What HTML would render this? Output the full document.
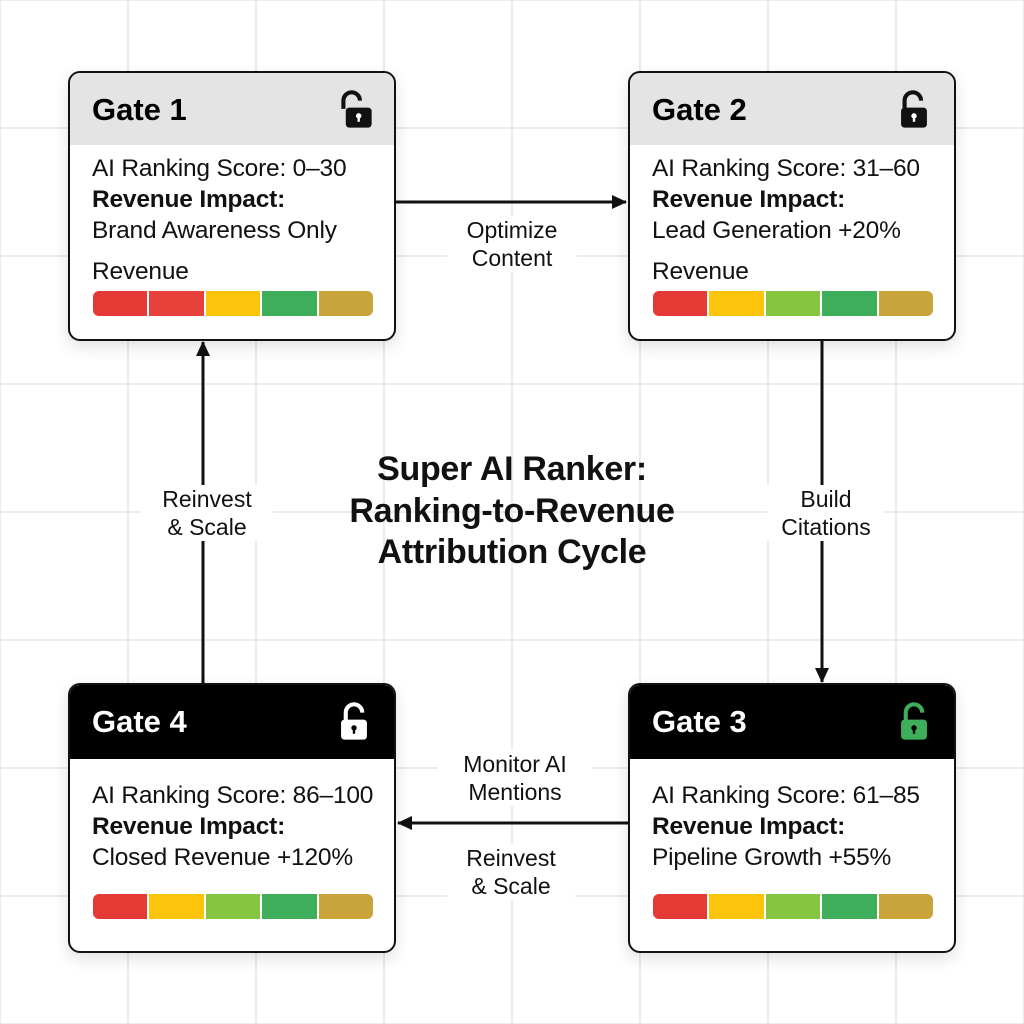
<!DOCTYPE html>
<html><head><meta charset="utf-8"><style>
html,body{margin:0;padding:0;}
body{width:1024px;height:1024px;position:relative;overflow:hidden;font-family:"Liberation Sans",sans-serif;
background-color:#fff;
background-image:linear-gradient(#ebebeb 2px,transparent 2px),linear-gradient(90deg,#ebebeb 2px,transparent 2px);
background-size:128px 128px;background-position:-1px -1px;}
.card{position:absolute;width:324px;height:266px;border:2px solid #111;border-radius:12px;background:#fff;overflow:hidden;box-shadow:0 6px 16px rgba(0,0,0,0.12);}
.hd{height:72px;background:#e4e4e4;position:relative;}
.dark .hd{background:#000;color:#fff;height:74px;}
.hd .t{position:absolute;left:22px;top:19px;font-size:31px;font-weight:bold;}
.lk{position:absolute;right:20px;top:17px;}
.bd{position:absolute;left:22px;font-size:24.5px;line-height:31px;color:#111;white-space:nowrap;letter-spacing:-0.2px;}
.bar{position:absolute;left:23px;width:280px;height:25px;display:flex;gap:2px;border-radius:6px;overflow:hidden;}
.bar div{flex:1;}
.lbl{position:absolute;background:#fff;font-size:23px;line-height:28px;text-align:center;color:#111;padding:0 4px;}
.title{position:absolute;left:262px;width:500px;top:449px;text-align:center;font-size:34px;font-weight:bold;line-height:41.5px;color:#111;letter-spacing:-0.3px;}
</style></head><body>
<svg width="1024" height="1024" style="position:absolute;left:0;top:0">
<defs>
<marker id="b" markerWidth="16" markerHeight="16" refX="14" refY="8" orient="auto" markerUnits="userSpaceOnUse"><path d="M0,1 L15,8 L0,15 z" fill="#111"/></marker></defs>
<line x1="396" y1="202" x2="626" y2="202" stroke="#111" stroke-width="3" marker-end="url(#b)"/>
<line x1="822" y1="341" x2="822" y2="682" stroke="#111" stroke-width="3" marker-end="url(#b)"/>
<line x1="628" y1="823" x2="398" y2="823" stroke="#111" stroke-width="3" marker-end="url(#b)"/>
<line x1="203" y1="683" x2="203" y2="342" stroke="#111" stroke-width="3" marker-end="url(#b)"/>
</svg>

<div class="card" style="left:68px;top:71px">
 <div class="hd"><div class="t">Gate 1</div>
 <svg class="lk" width="40" height="40" viewBox="0 0 34 34"><path d="M8 16 V9 a7 7 0 0 1 14 0" fill="none" stroke="#111" stroke-width="3.5"/><rect x="10" y="15" width="22" height="17" rx="3" fill="#111"/><circle cx="21" cy="22" r="2.3" fill="#fff"/><rect x="20" y="22" width="2" height="5" fill="#fff"/></svg></div>
 <div class="bd" style="top:80px">AI Ranking Score: 0–30<br><b>Revenue Impact:</b><br>Brand Awareness Only</div>
 <div class="bd" style="top:183px">Revenue</div>
 <div class="bar" style="top:218px"><div style="background:#e53935"></div><div style="background:#e8403a"></div><div style="background:#fcc40a"></div><div style="background:#3fae5a"></div><div style="background:#c9a43a"></div></div>
</div>

<div class="card" style="left:628px;top:71px">
 <div class="hd"><div class="t">Gate 2</div>
 <svg class="lk" width="40" height="40" viewBox="0 0 34 34"><path d="M9 16 V9 a7 7 0 0 1 14 0" fill="none" stroke="#111" stroke-width="3.5"/><rect x="6" y="15" width="22" height="17" rx="3" fill="#111"/><circle cx="17" cy="22" r="2.3" fill="#fff"/><rect x="16" y="22" width="2" height="5" fill="#fff"/></svg></div>
 <div class="bd" style="top:80px">AI Ranking Score: 31–60<br><b>Revenue Impact:</b><br>Lead Generation +20%</div>
 <div class="bd" style="top:183px">Revenue</div>
 <div class="bar" style="top:218px"><div style="background:#e53935"></div><div style="background:#fcc40a"></div><div style="background:#86c540"></div><div style="background:#3fae5a"></div><div style="background:#c9a43a"></div></div>
</div>

<div class="card dark" style="left:68px;top:683px">
 <div class="hd"><div class="t">Gate 4</div>
 <svg class="lk" width="40" height="40" viewBox="0 0 34 34"><path d="M10 16 V9 a7 7 0 0 1 14 0" fill="none" stroke="#fff" stroke-width="3.5"/><rect x="6" y="15" width="22" height="17" rx="3" fill="#fff"/><circle cx="17" cy="22" r="2.3" fill="#000"/><rect x="16" y="22" width="2" height="5" fill="#000"/></svg></div>
 <div class="bd" style="top:95px">AI Ranking Score: 86–100<br><b>Revenue Impact:</b><br>Closed Revenue +120%</div>
 <div class="bar" style="top:209px"><div style="background:#e53935"></div><div style="background:#fcc40a"></div><div style="background:#86c540"></div><div style="background:#3fae5a"></div><div style="background:#c9a43a"></div></div>
</div>

<div class="card dark" style="left:628px;top:683px">
 <div class="hd"><div class="t">Gate 3</div>
 <svg class="lk" width="40" height="40" viewBox="0 0 34 34"><path d="M10 16 V9 a7 7 0 0 1 14 0" fill="none" stroke="#3fae5a" stroke-width="3.5"/><rect x="6" y="15" width="22" height="17" rx="3" fill="#3fae5a"/><circle cx="17" cy="22" r="2.3" fill="#000"/><rect x="16" y="22" width="2" height="5" fill="#000"/></svg></div>
 <div class="bd" style="top:95px">AI Ranking Score: 61–85<br><b>Revenue Impact:</b><br>Pipeline Growth +55%</div>
 <div class="bar" style="top:209px"><div style="background:#e53935"></div><div style="background:#fcc40a"></div><div style="background:#86c540"></div><div style="background:#3fae5a"></div><div style="background:#c9a43a"></div></div>
</div>

<div class="lbl" style="left:447px;top:216px;width:122px">Optimize<br>Content</div>
<div class="lbl" style="left:767px;top:485px;width:110px">Build<br>Citations</div>
<div class="lbl" style="left:141px;top:485px;width:124px">Reinvest<br>&amp; Scale</div>
<div class="lbl" style="left:438px;top:750px;width:146px">Monitor AI<br>Mentions</div>
<div class="lbl" style="left:447px;top:844px;width:120px">Reinvest<br>&amp; Scale</div>

<div class="title">Super AI Ranker:<br>Ranking-to-Revenue<br>Attribution Cycle</div>
</body></html>
